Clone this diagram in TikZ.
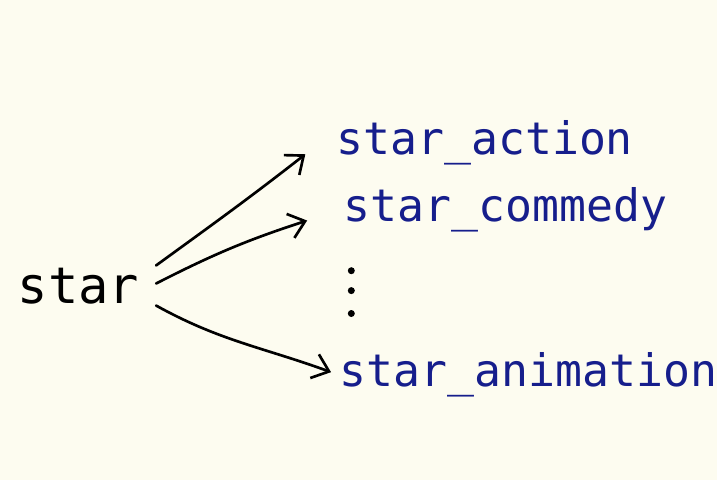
\documentclass[tikz,border=0pt]{standalone}
\usepackage{fontspec}
\setmonofont{DejaVu Sans Mono}
\usetikzlibrary{arrows.meta}
\definecolor{paper}{RGB}{253,252,240}
\definecolor{ink}{RGB}{22,30,140}

\begin{document}
\begin{tikzpicture}[x=0.025cm, y=-0.025cm,
    source/.style ={font=\ttfamily\fontsize{36}{40}\selectfont, inner sep = 0pt, outer sep = 12pt, anchor=base},
    target/.style ={font=\ttfamily\fontsize{32}{36}\selectfont, text = ink, inner sep = 2pt, anchor=base},
    dot/.style ={circle, fill, inner sep = 0pt, minimum size=5pt},
    link/.style ={line width=1.9pt, line cap=round, -{Straight Barb[length=11pt, width=18pt, line width=1.9pt]}}]
   \fill[paper] (0,0) rectangle (720,482);
   \node[source] (star) at (79,305) {star};
   \node[target] (action) at (487,155) {star\_action};
   \node[target] (commedy) at (508,223) {star\_commedy};
   \node[target] (animation) at (531,388) {star\_animation};
   \foreach \y [count=\i] in {272,292,315}
      \node[dot] (d\i) at (353,\y) {};
   
   
   \draw[link] (star.15) to[out=36, in=-142] ([xshift=-20pt]action.base west);
   \draw[link] (star.2) to[out=27, in=-162] ([xshift=-24pt, yshift=1pt]commedy.base west);
   \draw[link] (star.-14) to[out=-29, in=160] ([xshift=-4pt, yshift=10pt]animation.base west);
 \end{tikzpicture}
\end{document}
